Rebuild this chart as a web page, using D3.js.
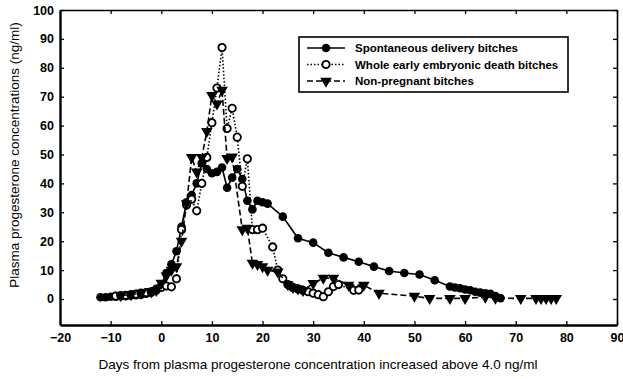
<!DOCTYPE html>
<html>
<head>
<meta charset="utf-8">
<script src="https://cdn.jsdelivr.net/npm/d3@7"></script>
<style>
  body { margin: 0; background: #fff; }
  svg { font-family: Arial, "Liberation Sans", sans-serif; }
</style>
</head>
<body>
<div id="chart"></div>
<script>
// spontaneous delivery (solid line, filled circles)
const sdDays = [-12, -11, -10, -9, -8, -7, -6, -5, -4, -3, -2, -1, 0, 1, 2, 3, 4, 5, 6, 7, 8, 9, 10, 11, 12, 13, 14, 15, 16, 17, 18, 19, 20, 21, 24, 27, 30, 33, 36, 39, 42, 45, 48, 51, 54, 57, 58, 59, 60, 61, 62, 63, 64, 65, 66, 67];
const sdVals = [0.6, 0.6, 0.8, 0.8, 1.0, 1.0, 1.2, 1.3, 1.5, 1.8, 2.2, 3.5, 4.5, 9, 12, 16.5, 25, 33.5, 36, 40, 47, 45, 43.5, 44, 45.5, 38.5, 42, 45, 41.5, 34, 31, 34, 33.5, 33, 28.5, 21, 19.5, 16, 14.4, 12.9, 11.2, 9.7, 9, 8.5, 6.5, 4.3, 4, 3.7, 3.3, 3, 2.5, 2.2, 2, 1.8, 1, 0.3];

// whole early embryonic death (dotted line, open circles)
const edDays = [-9, -8, -7, -6, -5, -4, -3, -2, -1, 0, 1, 2, 3, 4, 5, 6, 7, 8, 9, 10, 11, 12, 13, 14, 15, 16, 17, 18, 19, 20, 22, 23, 24, 25, 26, 27, 28, 29, 30, 31, 32, 33, 34, 35, 38, 39];
const edVals = [1.0, 1.2, 1.3, 1.5, 1.7, 2, 2.2, 2.5, 3, 4, 4.5, 4.2, 7, 24, 32.5, 34.5, 30.5, 40, 49, 61, 73, 87, 59, 66, 56, 39, 48.5, 24, 24, 24.5, 18, 10, 7, 5, 4, 3.5, 3, 2.5, 2, 1.5, 0.8, 2.5, 4.3, 5, 3, 3.1];

// non-pregnant (dashed line, triangles)
const npDays = [-8, -6, -4, -2, -1, 0, 1, 2, 3, 4, 5, 6, 7, 8, 9, 10, 11, 12, 13, 14, 16, 17, 18, 19, 20, 21, 23, 25, 26, 27, 28, 30, 32, 34, 37, 40, 43, 50, 53, 57, 60, 64, 66, 71, 74, 75, 76, 77, 78];
const npVals = [1.2, 1.5, 2, 2.5, 3, 5.5, 8, 10, 11.2, 20, 33, 49, 44, 49, 58, 70.5, 67.5, 72.3, 48.7, 49.2, 24, 24.5, 12.4, 12, 11.2, 10, 9.4, 5, 4, 3.5, 3, 5.4, 7.2, 7.2, 4.8, 4.8, 2, 1, 0.2, 0.2, 0.2, 0.7, 0.3, 0.2, 0.2, 0.2, 0.2, 0.2, 0.2];

const xTicks = [-20, -10, 0, 10, 20, 30, 40, 50, 60, 70, 80, 90];
const yTicks = [0, 10, 20, 30, 40, 50, 60, 70, 80, 90, 100];

const seriesNames = ["Spontaneous delivery bitches", "Whole early embryonic death bitches", "Non-pregnant bitches"];

const width = 623, height = 379;
const margin = { top: 10, right: 6, bottom: 54, left: 60 };

const x = d3.scaleLinear([-20, 90], [margin.left, width - margin.right]);
const y = d3.scaleLinear([-9, 100], [height - margin.bottom, margin.top]);

const series = [
  { name: seriesNames[0], days: sdDays, vals: sdVals, dash: null, marker: "filled" },
  { name: seriesNames[1], days: edDays, vals: edVals, dash: "1.5,2", marker: "open" },
  { name: seriesNames[2], days: npDays, vals: npVals, dash: "6,3", marker: "tri" },
];

const svg = d3.select("#chart").append("svg")
  .attr("width", width)
  .attr("height", height);

const line = d3.line().x(d => x(d[0])).y(d => y(d[1]));

const tri = d3.symbol(d3.symbolTriangle, 58);

function drawMarker(g, type) {
  if (type === "filled") {
    g.append("circle").attr("r", 4.3).attr("fill", "#000");
  } else if (type === "open") {
    g.append("circle").attr("r", 3.7).attr("fill", "#fff")
      .attr("stroke", "#000").attr("stroke-width", 1.8);
  } else {
    g.append("path").attr("d", tri).attr("transform", "rotate(180)")
      .attr("fill", "#000");
  }
}

// plot lines and markers
series.forEach(s => {
  const pts = s.days.map((d, i) => [d, s.vals[i]]);
  svg.append("path")
    .attr("d", line(pts))
    .attr("fill", "none")
    .attr("stroke", "#000")
    .attr("stroke-width", 1.6)
    .attr("stroke-dasharray", s.dash);
  svg.append("g").selectAll("g")
    .data(pts)
    .join("g")
    .attr("transform", d => `translate(${x(d[0])},${y(d[1])})`)
    .each(function () { drawMarker(d3.select(this), s.marker); });
});

// axes (ticks point inward)
const bottom = svg.append("g")
  .attr("transform", `translate(0,${height - margin.bottom})`)
  .call(d3.axisBottom(x).tickValues(xTicks).tickSize(-4).tickPadding(8).tickSizeOuter(0));
const left = svg.append("g")
  .attr("transform", `translate(${margin.left},0)`)
  .call(d3.axisLeft(y).tickValues(yTicks).tickSize(-4).tickPadding(6).tickSizeOuter(0));
svg.append("g")
  .attr("transform", `translate(${width - margin.right},0)`)
  .call(d3.axisRight(y).tickValues(yTicks).tickSize(-4).tickFormat("").tickSizeOuter(0));
svg.append("g")
  .attr("transform", `translate(0,${margin.top})`)
  .call(d3.axisTop(x).tickValues(xTicks).tickSize(-4).tickFormat("").tickSizeOuter(0));

svg.selectAll(".tick text")
  .attr("font-size", 12.5)
  .attr("font-weight", "bold")
  .attr("fill", "#000");
svg.selectAll(".domain").attr("stroke", "#000").attr("stroke-width", 1.6);
svg.selectAll(".tick line").attr("stroke", "#000").attr("stroke-width", 1.3);
bottom.select(".domain").attr("stroke-width", 2.4);
left.select(".domain").attr("stroke-width", 2.4);

// axis titles
svg.append("text")
  .attr("x", 318)
  .attr("y", 369)
  .attr("text-anchor", "middle")
  .attr("font-size", 13.5)
  .text("Days from plasma progesterone concentration increased above 4.0 ng/ml");

svg.append("text")
  .attr("transform", "translate(19,155) rotate(-90)")
  .attr("text-anchor", "middle")
  .attr("font-size", 13.5)
  .text("Plasma progesterone concentrations (ng/ml)");

// legend
const legend = svg.append("g").attr("transform", "translate(299,37)");
legend.append("rect")
  .attr("width", 269).attr("height", 55)
  .attr("fill", "#fff").attr("stroke", "#000").attr("stroke-width", 1.6);
series.forEach((s, i) => {
  const row = legend.append("g").attr("transform", `translate(0,${11 + i * 16.5})`);
  row.append("line")
    .attr("x1", 8).attr("x2", 46)
    .attr("stroke", "#000").attr("stroke-width", 1.6)
    .attr("stroke-dasharray", s.dash);
  drawMarker(row.append("g").attr("transform", "translate(27,0)"), s.marker);
  row.append("text")
    .attr("x", 56).attr("dy", "0.35em")
    .attr("font-size", 11.5)
    .attr("font-weight", "bold")
    .text(s.name);
});
</script>
</body>
</html>
